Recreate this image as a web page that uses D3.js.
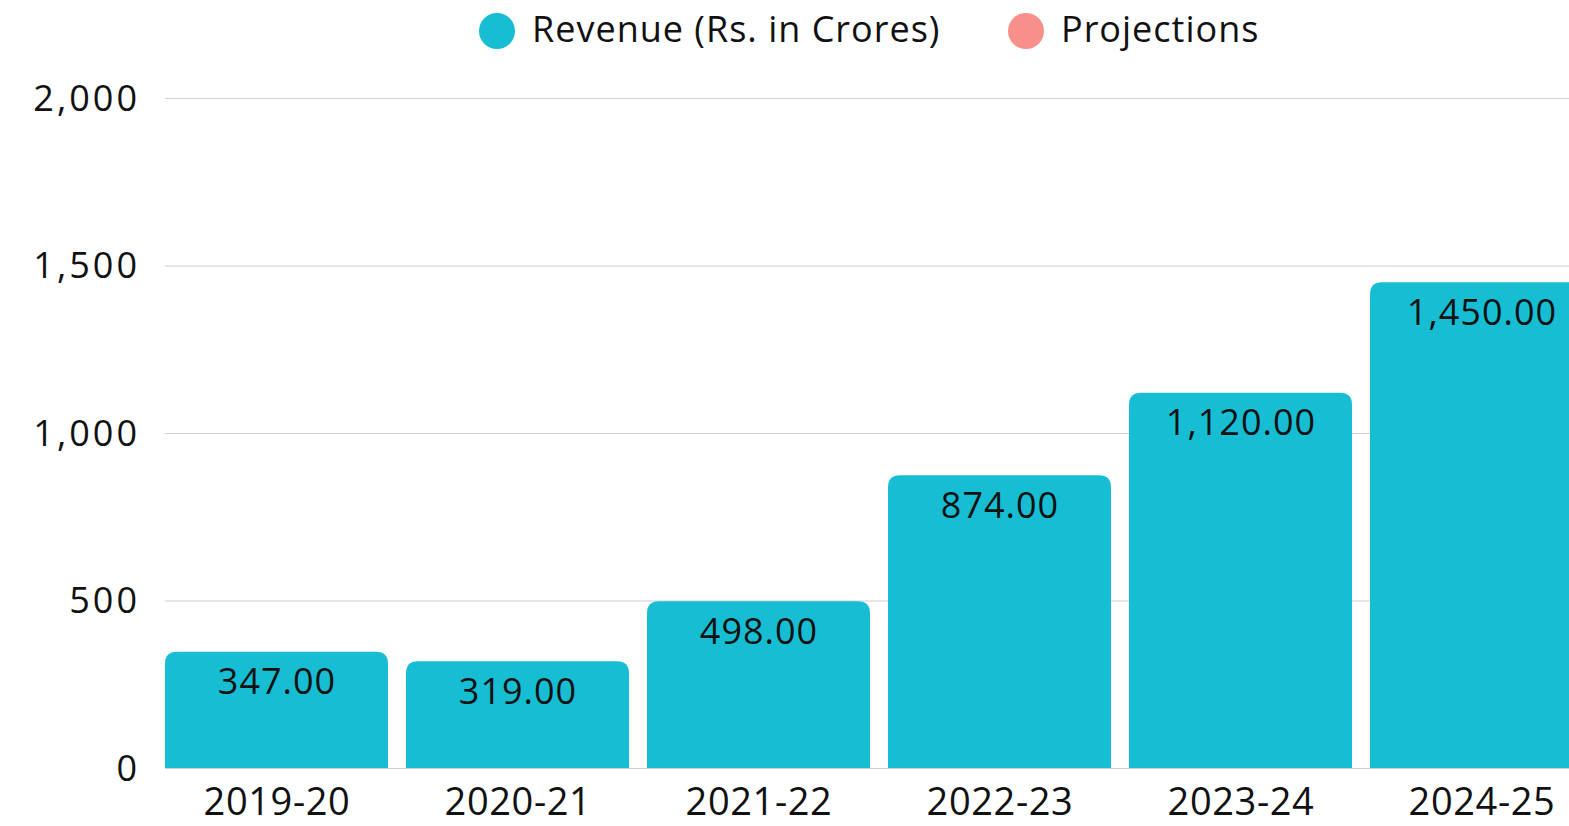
<!DOCTYPE html>
<html>
<head>
<meta charset="utf-8">
<script src="https://cdn.jsdelivr.net/npm/d3@7"></script>
<style>
  body { margin: 0; background: #fff; overflow: hidden; }
  text { font-family: "Open Sans", Lato, sans-serif; fill: #111; }
</style>
</head>
<body>
<div id="chart"></div>
<script>
// data
var years = ['2019-20', '2020-21', '2021-22', '2022-23', '2023-24', '2024-25'];
var revenue = [347, 319, 498, 874, 1120, 1450];
var yTicks = [0, 500, 1000, 1500, 2000];
var legendNames = ['Revenue (Rs. in Crores)', 'Projections'];
var legendColors = ['#17BED3', '#F7908A'];

var width = 1569, height = 826;
var svg = d3.select('#chart').append('svg')
    .attr('width', width)
    .attr('height', height);

var x = d3.scaleBand()
    .domain(years)
    .range([165, 1593])
    .paddingInner(0.0747)
    .paddingOuter(0);

var y = d3.scaleLinear()
    .domain([0, 2000])
    .range([768, 98]);

// gridlines
svg.append('g')
    .selectAll('line')
    .data(yTicks)
    .enter()
    .append('line')
    .attr('x1', 165)
    .attr('x2', width)
    .attr('y1', d => y(d) + 0.5)
    .attr('y2', d => y(d) + 0.5)
    .attr('stroke', '#cfcfcf')
    .attr('stroke-width', 1.2);

// y labels (letter-spacing adds a trailing gap, so nudge right)
svg.append('g')
    .selectAll('text')
    .data(yTicks)
    .enter()
    .append('text')
    .attr('x', 140)
    .attr('y', d => y(d))
    .attr('dy', '0.35em')
    .attr('text-anchor', 'end')
    .style('font-size', '36px')
    .style('letter-spacing', '3px')
    .text(d => d3.format(',')(d));

// bars with rounded top corners
var r = 12;
function barPath(d, i) {
    var x0 = x(years[i]), x1 = x0 + x.bandwidth();
    var y0 = y(d), yb = y(0);
    return 'M' + x0 + ',' + yb +
        'L' + x0 + ',' + (y0 + r) +
        'Q' + x0 + ',' + y0 + ' ' + (x0 + r) + ',' + y0 +
        'L' + (x1 - r) + ',' + y0 +
        'Q' + x1 + ',' + y0 + ' ' + x1 + ',' + (y0 + r) +
        'L' + x1 + ',' + yb + 'Z';
}
svg.append('g')
    .selectAll('path')
    .data(revenue)
    .enter()
    .append('path')
    .attr('d', barPath)
    .attr('fill', legendColors[0]);

// value labels
svg.append('g')
    .selectAll('text')
    .data(revenue)
    .enter()
    .append('text')
    .attr('x', (d, i) => x(years[i]) + x.bandwidth() / 2 + 0.5)
    .attr('y', d => y(d) + 30)
    .attr('dy', '0.35em')
    .attr('text-anchor', 'middle')
    .style('font-size', '36px')
    .style('letter-spacing', '1px')
    .text(d => d3.format(',.2f')(d));

// x labels
svg.append('g')
    .selectAll('text')
    .data(years)
    .enter()
    .append('text')
    .attr('x', d => x(d) + x.bandwidth() / 2 + 0.5)
    .attr('y', 802)
    .attr('dy', '0.35em')
    .attr('text-anchor', 'middle')
    .style('font-size', '38px')
    .style('letter-spacing', '0.6px')
    .text(d => d);

// legend
var legendX = [497, 1026];
var leg = svg.append('g')
    .selectAll('g')
    .data(legendNames)
    .enter()
    .append('g')
    .attr('transform', (d, i) => 'translate(' + legendX[i] + ',31)');
leg.append('circle')
    .attr('r', 18)
    .attr('fill', (d, i) => legendColors[i]);
leg.append('text')
    .attr('x', 35)
    .attr('y', -2)
    .attr('dy', '0.35em')
    .style('font-size', '36px')
    .style('letter-spacing', '1px')
    .text(d => d);
</script>
</body>
</html>
